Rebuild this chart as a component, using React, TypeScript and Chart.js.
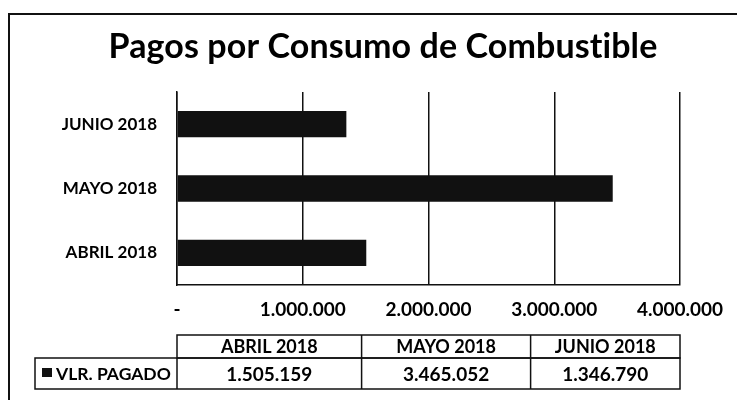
import React, { useEffect, useRef } from 'react';
import { Chart, registerables } from 'chart.js';

Chart.register(...registerables);

const TITLE = 'Pagos por Consumo de Combustible';
const CATEGORIES = ['ABRIL 2018', 'MAYO 2018', 'JUNIO 2018'];
const SERIES_NAME = 'VLR. PAGADO';
const VALUES = [1505159, 3465052, 1346790];
const X_MIN = 0;
const X_MAX = 4000000;
const X_STEP = 1000000;

const FONT = 'Lato, "Open Sans", sans-serif';

const fmt = (v: number) =>
  v === 0 ? '-' : Math.round(v).toString().replace(/\B(?=(\d{3})+(?!\d))/g, '.');

const framePlugin = {
  id: 'frameAndTitle',
  beforeDraw(chart: any) {
    const ctx = chart.ctx;
    ctx.save();
    ctx.fillStyle = '#ffffff';
    ctx.fillRect(0, 0, chart.width, chart.height);
    ctx.strokeStyle = '#111';
    ctx.lineWidth = 2;
    ctx.beginPath();
    ctx.moveTo(9, chart.height);
    ctx.lineTo(9, 14);
    ctx.lineTo(chart.width, 14);
    ctx.stroke();
    ctx.fillStyle = '#000';
    ctx.font = `bold 34px ${FONT}`;
    try {
      ctx.letterSpacing = '0.1px';
    } catch (e) {}
    ctx.textAlign = 'center';
    ctx.textBaseline = 'alphabetic';
    ctx.fillText(TITLE, 383, 58);
    ctx.restore();
  },
};

const tablePlugin = {
  id: 'dataTable',
  afterDraw(chart: any) {
    const ctx = chart.ctx;
    const { left, right } = chart.chartArea;
    const w = right - left;
    const cols = [left, left + w * 0.367, left + w * 0.703, right];
    const hTop = 335;
    const hBot = 358;
    const rBot = 389;
    const firstLeft = 35;
    ctx.save();
    ctx.strokeStyle = '#111';
    ctx.lineWidth = 1.5;
    ctx.strokeRect(left, hTop, w, hBot - hTop);
    ctx.strokeRect(firstLeft, hBot, right - firstLeft, rBot - hBot);
    ctx.beginPath();
    for (let i = 1; i < cols.length - 1; i++) {
      ctx.moveTo(cols[i], hTop);
      ctx.lineTo(cols[i], rBot);
    }
    ctx.moveTo(left, hBot);
    ctx.lineTo(left, rBot);
    ctx.stroke();

    ctx.fillStyle = '#000';
    ctx.textAlign = 'center';
    ctx.textBaseline = 'middle';
    ctx.font = `bold 18px ${FONT}`;
    CATEGORIES.forEach((c, i) => {
      const cx = (cols[i] + cols[i + 1]) / 2;
      ctx.fillText(c, cx, (hTop + hBot) / 2 + 1);
    });
    ctx.font = `bold 19px ${FONT}`;
    VALUES.forEach((v, i) => {
      const cx = (cols[i] + cols[i + 1]) / 2;
      ctx.fillText(fmt(v), cx, (hBot + rBot) / 2 + 1);
    });
    // legend key + series name
    ctx.fillStyle = '#111';
    ctx.fillRect(42, 368, 10, 9);
    ctx.fillStyle = '#000';
    ctx.textAlign = 'left';
    ctx.font = `bold 17.5px ${FONT}`;
    ctx.fillText(SERIES_NAME, 56, (hBot + rBot) / 2 + 1);
    ctx.restore();
  },
};

export default function App() {
  const ref = useRef<HTMLCanvasElement | null>(null);

  useEffect(() => {
    if (!ref.current) return;
    const chart = new Chart(ref.current, {
      type: 'bar',
      data: {
        labels: CATEGORIES,
        datasets: [
          {
            label: SERIES_NAME,
            data: VALUES,
            backgroundColor: '#111111',
            borderWidth: 0,
            categoryPercentage: 0.82,
            barPercentage: 0.5,
          },
        ],
      },
      options: {
        indexAxis: 'y',
        animation: false,
        responsive: false,
        maintainAspectRatio: false,
        layout: { padding: { left: 0, right: 57, top: 92, bottom: 75 } },
        plugins: {
          legend: { display: false },
          title: { display: false },
          tooltip: { enabled: false },
        },
        scales: {
          x: {
            type: 'linear',
            min: X_MIN,
            max: X_MAX,
            afterFit: (s: any) => {
              s.height = 40;
            },
            ticks: {
              stepSize: X_STEP,
              padding: 13,
              color: '#000',
              font: { family: FONT, size: 19, weight: 'bold' },
              callback: (v: any) => fmt(Number(v)),
            },
            grid: { color: '#111', lineWidth: 1.5, drawTicks: false },
            border: { display: true, color: '#111', width: 1.5 },
          },
          y: {
            reverse: true,
            afterFit: (s: any) => {
              s.width = 177;
            },
            ticks: {
              padding: 20,
              color: '#000',
              font: { family: FONT, size: 17, weight: 'bold' },
            },
            grid: { display: false, drawTicks: false },
            border: { display: true, color: '#111', width: 1.5 },
          },
        },
      },
      plugins: [framePlugin, tablePlugin],
    });
    return () => chart.destroy();
  }, []);

  return (
    <div style={{ position: 'fixed', left: 0, top: 0, width: 737, height: 400, background: '#fff' }}>
      <canvas ref={ref} width={737} height={400} style={{ width: 737, height: 400, display: 'block' }} />
    </div>
  );
}
